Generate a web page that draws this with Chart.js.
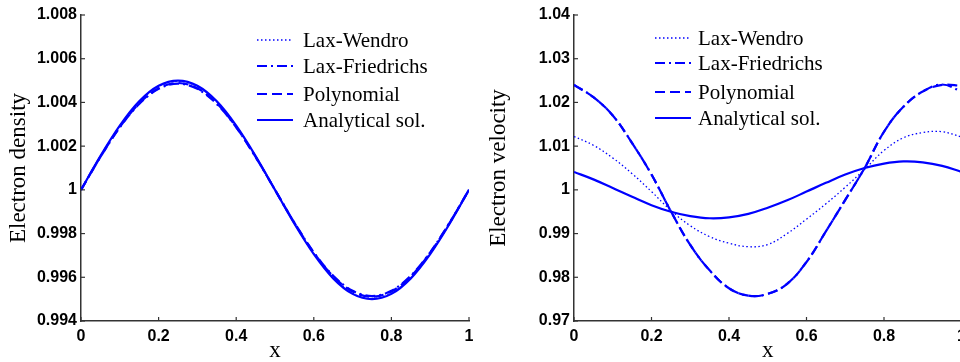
<!DOCTYPE html>
<html lang="en">

<head>
    <meta charset="UTF-8">
    <title>Electron density / velocity</title>
    <script src="https://cdn.jsdelivr.net/npm/chart.js"></script>
    <style>
        html, body {
            margin: 0;
            padding: 0;
            background: #ffffff;
            overflow: hidden;
            width: 960px;
            height: 362px;
        }

        .panel {
            position: absolute;
            top: 0;
        }

        #leftPanel {
            left: 0;
            width: 480px;
            height: 362px;
        }

        #rightPanel {
            left: 480px;
            width: 500px;
            height: 362px;
        }
    </style>
</head>

<body>
    <div id="leftPanel" class="panel"><canvas id="densityChart" width="480" height="362"></canvas></div>
    <div id="rightPanel" class="panel"><canvas id="velocityChart" width="500" height="362"></canvas></div>
    <script>
        // x positions of the samples (both panels)
        const xs = [0, 0.05, 0.1, 0.15, 0.2, 0.25, 0.3, 0.35, 0.4, 0.45, 0.5,
            0.55, 0.6, 0.65, 0.7, 0.75, 0.8, 0.85, 0.9, 0.95, 1];

        const seriesNames = ['Lax-Wendro', 'Lax-Friedrichs', 'Polynomial', 'Analytical sol.'];

        // left panel: electron density
        const densityLW = [1, 1.00154, 1.00292, 1.00402, 1.00473, 1.00497, 1.00473, 1.00402, 1.00292, 1.00154, 1,
            0.99846, 0.99708, 0.99598, 0.99527, 0.99503, 0.99527, 0.99598, 0.99708, 0.99846, 1];
        const densityLF = [1, 1.0015, 1.00286, 1.00393, 1.00462, 1.00486, 1.00462, 1.00393, 1.00286, 1.0015, 1,
            0.9985, 0.99714, 0.99607, 0.99538, 0.99514, 0.99538, 0.99607, 0.99714, 0.9985, 1];
        const densityPoly = [1, 1.00151, 1.00287, 1.00396, 1.00465, 1.00489, 1.00465, 1.00396, 1.00287, 1.00151, 1,
            0.99849, 0.99713, 0.99604, 0.99535, 0.99511, 0.99535, 0.99604, 0.99713, 0.99849, 1];
        const densityExact = [1, 1.00155, 1.00294, 1.00405, 1.00476, 1.005, 1.00476, 1.00405, 1.00294, 1.00155, 1,
            0.99845, 0.99706, 0.99595, 0.99524, 0.995, 0.99524, 0.99595, 0.99706, 0.99845, 1];

        // right panel: electron velocity
        const velocityLW = [1.0122, 1.0102, 1.0073, 1.0037, 0.9996, 0.9953, 0.9918, 0.9893, 0.9878, 0.9870, 0.9875,
            0.9900, 0.9933, 0.9968, 1.0006, 1.0047, 1.0090, 1.0119, 1.0131, 1.0133, 1.0121];
        const velocityLF = [1.0240, 1.0212, 1.0170, 1.0107, 1.0035, 0.9951, 0.9874, 0.9816, 0.9775, 0.9758, 0.9762,
            0.9785, 0.9835, 0.9905, 0.9977, 1.0050, 1.0133, 1.0190, 1.0225, 1.0241, 1.0225];
        const velocityPoly = [1.0240, 1.0212, 1.0170, 1.0107, 1.0035, 0.9951, 0.9874, 0.9816, 0.9775, 0.9758, 0.9762,
            0.9785, 0.9835, 0.9905, 0.9977, 1.0050, 1.0133, 1.0190, 1.0225, 1.0240, 1.0238];
        const velocityExact = [1.0041, 1.0024, 1.0004, 0.9984, 0.9965, 0.9950, 0.9940, 0.9935, 0.9937, 0.9945, 0.9959,
            0.9976, 0.9996, 1.0016, 1.0035, 1.0050, 1.0060, 1.0065, 1.0063, 1.0055, 1.0041];

        // tick labels
        const xTickLabels = ['0', '0.2', '0.4', '0.6', '0.8', '1'];
        const densityTickLabels = ['0.994', '0.996', '0.998', '1', '1.002', '1.004', '1.006', '1.008'];
        const velocityTickLabels = ['0.97', '0.98', '0.99', '1', '1.01', '1.02', '1.03', '1.04'];

        const BLUE = '#0000ff';
        const lineStyles = [
            { dash: [1.5, 2.5], width: 1.3 },
            { dash: [10, 4, 2, 4], width: 2.2 },
            { dash: [10, 5], width: 2.2 },
            { dash: [], width: 2.2 }
        ];

        function makeDatasets(seriesList, tension) {
            return seriesList.map((values, i) => ({
                label: seriesNames[i],
                data: xs.map((x, k) => ({ x: x, y: values[k] })),
                borderColor: BLUE,
                borderWidth: lineStyles[i].width,
                borderDash: lineStyles[i].dash,
                pointRadius: 0,
                fill: false,
                tension: tension,
                cubicInterpolationMode: tension ? 'default' : 'monotone',
                order: 3 - i
            }));
        }

        // inward tick marks + in-plot legend
        const matlabLook = {
            id: 'matlabLook',
            afterDatasetsDraw(chart, args, opts) {
                const ctx = chart.ctx;
                const area = chart.chartArea;
                const xScale = chart.scales.x;
                const yScale = chart.scales.y;
                ctx.save();
                ctx.strokeStyle = '#333333';
                ctx.lineWidth = 1.2;
                ctx.setLineDash([]);
                xScale.ticks.forEach(t => {
                    const px = xScale.getPixelForValue(t.value);
                    ctx.beginPath();
                    ctx.moveTo(px, area.bottom);
                    ctx.lineTo(px, area.bottom - 4);
                    ctx.stroke();
                });
                yScale.ticks.forEach(t => {
                    const py = yScale.getPixelForValue(t.value);
                    ctx.beginPath();
                    ctx.moveTo(area.left, py);
                    ctx.lineTo(area.left + 4, py);
                    ctx.stroke();
                });

                // legend
                ctx.font = '21px "Liberation Serif", "Times New Roman", serif';
                ctx.textBaseline = 'middle';
                ctx.textAlign = 'left';
                chart.data.datasets.forEach((ds, i) => {
                    const y = opts.rows[i];
                    ctx.strokeStyle = ds.borderColor;
                    ctx.lineWidth = ds.borderWidth;
                    ctx.setLineDash(ds.borderDash);
                    ctx.beginPath();
                    ctx.moveTo(opts.x0, y);
                    ctx.lineTo(opts.x1, y);
                    ctx.stroke();
                    ctx.setLineDash([]);
                    ctx.fillStyle = '#000000';
                    ctx.fillText(ds.label, opts.textX, y + 1);
                });
                ctx.restore();
            }
        };

        function makeOptions(yMin, yMax, yStep, yLabels, yTitle, padding, yWidth, legend) {
            return {
                responsive: false,
                animation: false,
                layout: { padding: padding },
                plugins: {
                    legend: { display: false },
                    tooltip: { enabled: false },
                    matlabLook: legend
                },
                scales: {
                    x: {
                        type: 'linear',
                        min: 0,
                        max: 1,
                        afterBuildTicks: (scale) => {
                            scale.ticks = xTickLabels.map(l => ({ value: parseFloat(l) }));
                        },
                        afterFit: (scale) => {
                            scale.height = 41;
                            scale.paddingLeft = 0;
                            scale.paddingRight = 0;
                        },
                        grid: { display: false, drawTicks: false },
                        border: { display: true, color: '#333333', width: 1.5 },
                        ticks: {
                            padding: 6,
                            color: '#000000',
                            maxRotation: 0,
                            autoSkip: false,
                            font: { family: '"Liberation Sans", Arial, sans-serif', size: 16, weight: 'bold' },
                            callback: (v, i) => xTickLabels[i]
                        },
                        title: {
                            display: true,
                            text: 'x',
                            color: '#000000',
                            padding: { top: 0, bottom: 0 },
                            font: { family: '"Liberation Serif", "Times New Roman", serif', size: 23, lineHeight: 1 }
                        }
                    },
                    y: {
                        type: 'linear',
                        min: yMin,
                        max: yMax,
                        afterBuildTicks: (scale) => {
                            scale.ticks = yLabels.map(l => ({ value: parseFloat(l) }));
                        },
                        afterFit: (scale) => {
                            scale.width = yWidth;
                            scale.paddingTop = 0;
                            scale.paddingBottom = 0;
                        },
                        grid: { display: false, drawTicks: false },
                        border: { display: true, color: '#333333', width: 1.5 },
                        ticks: {
                            padding: 4,
                            color: '#000000',
                            autoSkip: false,
                            font: { family: '"Liberation Sans", Arial, sans-serif', size: 16, weight: 'bold' },
                            callback: (v, i) => yLabels[i]
                        },
                        title: {
                            display: true,
                            text: yTitle,
                            color: '#000000',
                            padding: { top: 5, bottom: 0 },
                            font: { family: '"Liberation Serif", "Times New Roman", serif', size: 23 }
                        }
                    }
                }
            };
        }

        new Chart(document.getElementById('densityChart'), {
            type: 'line',
            data: { datasets: makeDatasets([densityLW, densityLF, densityPoly, densityExact], 0) },
            options: makeOptions(0.994, 1.008, 0.002, densityTickLabels, 'Electron density',
                { top: 15, right: 11, bottom: 0, left: 0 }, 81,
                { x0: 257, x1: 293, textX: 303, rows: [40, 66, 94, 120] }),
            plugins: [matlabLook]
        });

        new Chart(document.getElementById('velocityChart'), {
            type: 'line',
            data: { datasets: makeDatasets([velocityLW, velocityLF, velocityPoly, velocityExact], 0.4) },
            options: makeOptions(0.97, 1.04, 0.01, velocityTickLabels, 'Electron velocity',
                { top: 15, right: 18.5, bottom: 0, left: 0 }, 94,
                { x0: 175, x1: 211, textX: 218, rows: [38, 63, 92, 118] }),
            plugins: [matlabLook]
        });
    </script>
</body>

</html>
